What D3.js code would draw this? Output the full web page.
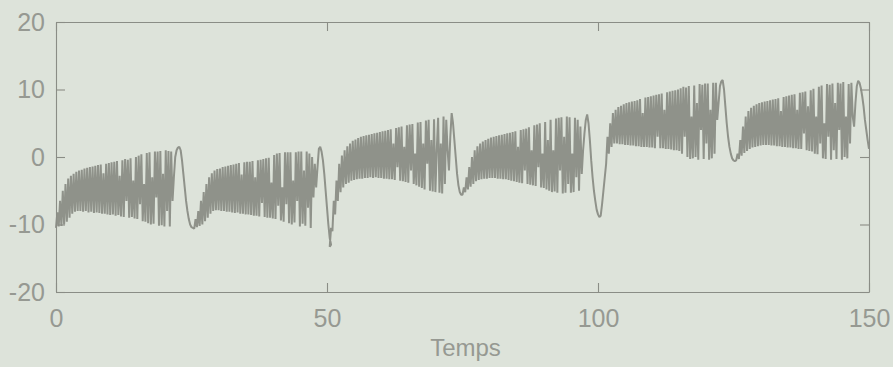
<!DOCTYPE html>
<html>
<head>
<meta charset="utf-8">
<script src="https://cdn.jsdelivr.net/npm/d3@7"></script>
<style>
  body { margin: 0; background: #dde3da; }
  svg { display: block; }
</style>
</head>
<body>
<div id="chart"></div>
<script>
// sample step (time units) and start time of each cycle
const dt = 0.25;
const cycleStarts = [0, 25.5, 50.5, 75, 100.5, 125.5];

// values, one array per cycle (dip to dip)
const cycle1 = [-10.5, -8.2, -10.3, -6.5, -10.2, -5.0, -10.0, -4.0, -9.6, -3.2,
  -9.0, -2.8, -8.4, -2.5, -8.1, -2.2, -8.0, -2.0, -8.0, -1.9,
  -8.1, -1.7, -8.0, -1.6, -8.2, -1.5, -8.1, -1.4, -8.3, -1.3,
  -8.2, -1.2, -8.3, -1.1, -8.4, -2.4, -8.4, -1.0, -8.5, -0.9,
  -8.6, -0.8, -8.5, -0.7, -8.7, -0.6, -8.6, -2.8, -8.8, -0.5,
  -8.9, -0.3, -6.5, -0.4, -9.0, -0.2, -8.9, -3.5, -9.1, 0.0,
  -9.2, 0.2, -7.0, 0.4, -9.5, -4.0, -9.6, 0.6, -9.8, 0.7,
  -10.0, -3.0, -9.9, 0.8, -6.0, 0.8, -10.2, 0.9, -10.1, -2.5,
  -10.3, 1.0, -8.0, 0.9, -10.3, 0.8, -6.5, -3.0, 0.0, 1.0,
  1.4, 1.5, 1.0, -0.5, -2.5, -4.5, -6.5, -8.0, -9.2, -10.0,
  -10.4, -10.5];
const cycle2 = [-10.6, -9.2, -10.4, -8.0, -10.2, -6.5, -10.0, -5.2, -9.5, -4.0,
  -9.0, -3.0, -8.4, -2.4, -8.0, -2.0, -7.9, -1.8, -7.9, -1.7,
  -8.0, -1.5, -8.0, -1.4, -8.1, -1.3, -8.1, -1.2, -8.2, -1.1,
  -8.3, -1.0, -8.2, -0.9, -8.4, -2.6, -8.4, -0.8, -8.5, -0.7,
  -8.5, -0.7, -8.6, -0.6, -8.7, -3.0, -8.7, -0.5, -8.8, -0.4,
  -6.8, -0.3, -8.9, -0.2, -9.0, -0.1, -9.0, -3.8, -9.1, 0.3,
  -9.2, 0.5, -7.2, 0.6, -9.4, -4.5, -9.6, 0.7, -7.0, 0.7,
  -9.8, 0.7, -10.0, -3.5, -9.7, 0.7, -6.5, 0.8, -10.3, 0.8,
  -9.9, -2.0, -10.2, 0.8, -7.5, 0.5, -10.5, 0.0, -6.0, -1.0,
  -4.5, -1.5, 1.2, 1.5, 0.8, -0.5, -2.5, -5.0, -7.5, -10.0,
  -12.0, -13.0];
const cycle3 = [-13.3, -10.5, -11.0, -6.5, -8.5, -3.5, -6.5, -1.0, -5.2, 0.2,
  -4.5, 1.0, -4.0, 1.6, -3.8, 2.0, -3.5, 2.4, -3.4, 2.6,
  -3.3, 2.8, -3.2, 3.0, -3.2, 3.1, -3.1, 3.2, -3.1, 3.3,
  -3.0, 3.4, -3.1, 3.5, -3.0, 3.6, -3.1, 3.7, -3.1, 3.8,
  -3.2, 3.9, -3.2, 4.0, -3.3, 4.1, -3.3, 2.0, -3.4, 4.3,
  -1.5, 4.4, -3.5, 4.5, -3.6, 1.5, -3.7, 4.7, -3.8, 4.8,
  -2.0, 4.9, -4.0, 0.5, -4.2, 5.1, -4.4, 5.2, -4.6, 2.0,
  -4.8, 5.4, -1.0, 5.5, -5.0, 2.5, -5.1, 5.6, -5.2, 1.0,
  5.8, -5.3, 2.0, -5.4, 6.0, -4.0, 5.5, 1.0, -2.0, 3.0,
  6.5, 5.0, 2.5, 0.0, -2.5, -4.2, -5.2, -5.6];
const cycle4 = [-5.6, -4.5, -5.2, -3.0, -4.8, -1.5, -4.4, 0.0, -4.0, 1.0,
  -3.6, 1.6, -3.4, 2.0, -3.3, 2.3, -3.2, 2.5, -3.2, 2.7,
  -3.1, 2.9, -3.1, 3.0, -3.1, 3.1, -3.2, 3.2, -3.2, 3.3,
  -3.3, 3.4, -3.3, 3.5, -3.4, 3.6, -3.5, 3.7, -3.6, 3.8,
  -3.7, 1.5, -3.8, 4.0, -3.9, 4.1, -2.0, 4.2, -4.0, 4.4,
  -4.1, 1.0, -4.2, 4.7, -4.3, 4.8, -1.5, 5.0, -4.5, 0.5,
  -4.6, 5.2, -4.8, 2.5, -5.0, 5.5, -5.2, 1.0, -5.1, 5.7,
  -5.3, 5.8, -2.0, 5.9, -5.4, 3.0, -5.3, 6.0, -4.0, 5.9,
  -5.3, 0.5, -5.2, 5.8, -3.0, 5.5, -5.0, 4.5, -2.5, 1.0,
  3.5, 5.5, 6.3, 5.0, 2.5, -0.5, -3.0, -5.0, -6.5, -7.8,
  -8.5, -8.9];
const cycle5 = [-8.7, -7.0, -5.0, -3.0, -1.0, 3.0, 0.5, 5.0, 1.5, 6.5,
  2.0, 7.0, 2.0, 7.4, 1.9, 7.6, 1.9, 7.8, 1.8, 8.0,
  1.8, 8.1, 1.7, 8.2, 1.7, 8.3, 1.6, 8.4, 1.6, 8.6,
  1.5, 6.5, 1.5, 8.8, 1.5, 8.9, 1.4, 9.0, 1.4, 9.1,
  1.3, 9.2, 3.0, 9.3, 1.3, 9.4, 1.3, 7.0, 1.2, 9.6,
  1.2, 9.7, 1.1, 9.8, 1.0, 9.9, 1.0, 10.0, 0.9, 10.2,
  0.5, 10.4, 3.0, 10.3, 0.0, 10.5, -0.3, 6.0, -0.2, 10.6,
  0.0, 8.0, -0.4, 10.8, 4.0, 10.7, -0.3, 10.9, 2.0, 10.9,
  -0.4, 7.0, -0.2, 11.0, 0.5, 11.0, 5.5, 8.0, 10.5, 11.2,
  11.4, 10.0, 7.5, 5.0, 3.0, 1.5, 0.5, -0.2, -0.5, -0.6];
const cycle6 = [-0.5, 0.5, -0.3, 2.5, 0.2, 4.5, 0.6, 6.0, 0.9, 6.8,
  1.2, 7.3, 1.4, 7.6, 1.5, 7.8, 1.6, 8.0, 1.7, 8.1,
  1.8, 8.2, 1.8, 8.3, 1.8, 8.4, 1.7, 8.5, 1.7, 8.6,
  1.6, 8.7, 1.6, 6.8, 1.5, 8.9, 1.5, 9.0, 1.4, 9.1,
  1.4, 9.2, 1.3, 9.3, 1.3, 7.0, 1.2, 9.5, 1.2, 9.6,
  3.5, 9.7, 1.0, 7.5, 0.9, 9.9, 0.8, 10.1, 0.5, 6.0,
  0.4, 10.4, 2.0, 10.6, -0.2, 5.0, -0.3, 10.8, 3.0, 10.7,
  -0.4, 10.9, 1.0, 8.0, -0.3, 11.0, 4.0, 10.9, -0.4, 11.1,
  0.0, 6.0, -0.2, 10.8, 2.0, 11.0, 6.0, 4.5, 8.0, 10.5,
  11.3, 11.0, 10.2, 9.0, 7.5, 5.5, 4.0, 2.5, 1.2];

const xTicks = [0, 50, 100, 150];
const yTicks = [-20, -10, 0, 10, 20];
const xLabel = "Temps";

const width = 893;
const height = 367;
const margin = { top: 22, right: 24, bottom: 75, left: 56 };
const ink = "#8f928a";
const axisInk = "#8a8d86";
const textInk = "#969992";
const font = "'Liberation Sans', Arial, sans-serif";

const series = [cycle1, cycle2, cycle3, cycle4, cycle5, cycle6].flatMap((c, j) =>
  c.map((v, i) => ({ t: cycleStarts[j] + i * dt, v }))
);

const svg = d3
  .select("#chart")
  .append("svg")
  .attr("width", width)
  .attr("height", height);

svg.append("rect").attr("width", width).attr("height", height).attr("fill", "#dde3da");

const x = d3
  .scaleLinear()
  .domain([0, 150])
  .range([margin.left, width - margin.right]);

const y = d3
  .scaleLinear()
  .domain([-20, 20])
  .range([height - margin.bottom, margin.top]);

// the signal, thick enough that the fast part reads as a solid band
svg
  .append("path")
  .datum(series)
  .attr("fill", "none")
  .attr("stroke", ink)
  .attr("stroke-width", 2.0)
  .attr("stroke-linejoin", "bevel")
  .attr("d", d3.line().x((d) => x(d.t)).y((d) => y(d.v)));

// box with inward ticks, matlab style
function styleAxis(g) {
  g.select(".domain").attr("stroke", axisInk).attr("stroke-width", 1.1);
  g.selectAll(".tick line").attr("stroke", axisInk).attr("stroke-width", 1.1);
  g.selectAll(".tick text")
    .attr("fill", textInk)
    .attr("font-family", font)
    .attr("font-size", "25px");
}

const plain = (d) => String(d);

svg
  .append("g")
  .attr("transform", `translate(0,${y(-20)})`)
  .call(d3.axisBottom(x).tickValues(xTicks).tickSizeInner(-9).tickSizeOuter(0).tickPadding(17).tickFormat(plain))
  .call(styleAxis);

svg
  .append("g")
  .attr("transform", `translate(0,${y(20)})`)
  .call(d3.axisTop(x).tickValues(xTicks).tickSizeInner(-9).tickSizeOuter(0).tickFormat(""))
  .call(styleAxis);

svg
  .append("g")
  .attr("transform", `translate(${x(0)},0)`)
  .call(d3.axisLeft(y).tickValues(yTicks).tickSizeInner(-9).tickSizeOuter(0).tickPadding(11).tickFormat(plain))
  .call(styleAxis);

svg
  .append("g")
  .attr("transform", `translate(${x(150)},0)`)
  .call(d3.axisRight(y).tickValues(yTicks).tickSizeInner(-9).tickSizeOuter(0).tickFormat(""))
  .call(styleAxis);

svg
  .append("text")
  .attr("x", (x(0) + x(150)) / 2 + 3)
  .attr("y", 356)
  .attr("text-anchor", "middle")
  .attr("fill", textInk)
  .attr("font-family", font)
  .attr("font-size", "24px")
  .text(xLabel);
</script>
</body>
</html>
